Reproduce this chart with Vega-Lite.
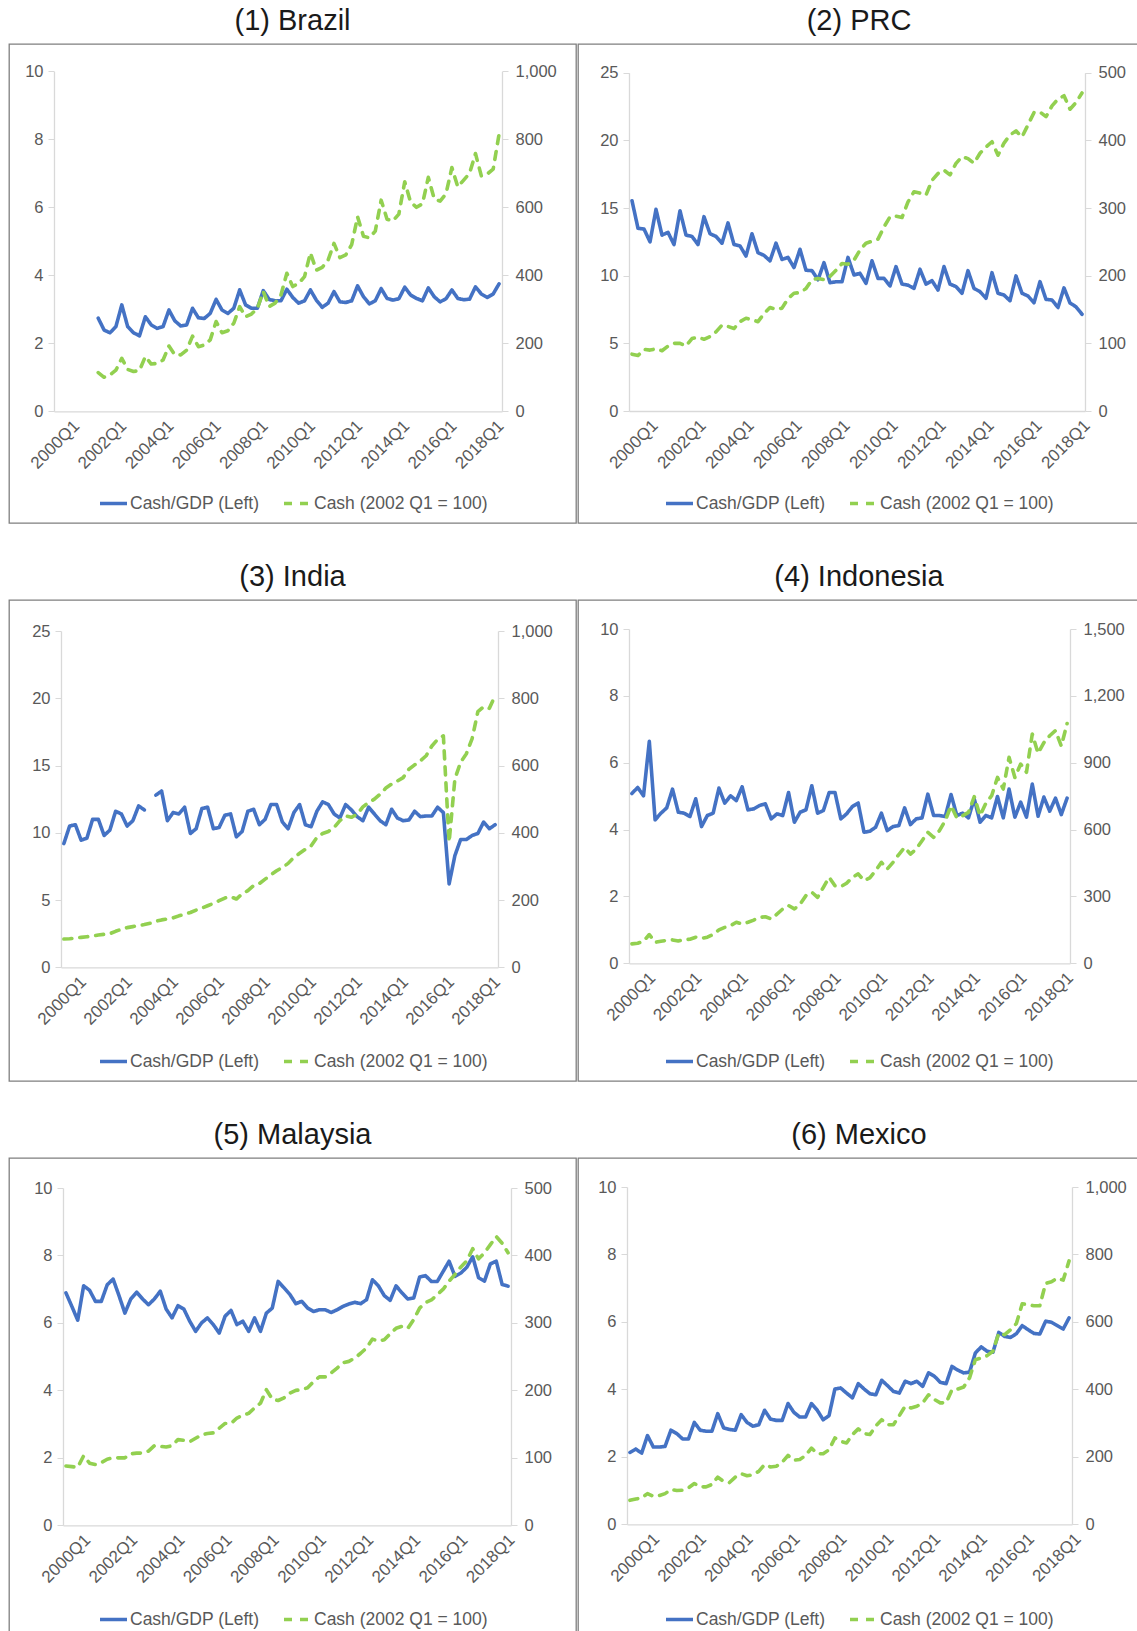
{
  "$schema": "https://vega.github.io/schema/vega-lite/v6.json",
  "padding": {"left": 8, "top": 6, "right": 0, "bottom": 0},
  "config": {
    "font": "Liberation Sans",
    "view": {"stroke": "#7f7f7f", "strokeWidth": 1.3},
    "axis": {"grid": false, "domainColor": "#d9d9d9", "domainWidth": 1.3, "tickColor": "#d9d9d9", "labelColor": "#595959", "labelFontSize": 16.5, "labelFont": "Liberation Sans"},
    "legend": {"orient": "bottom", "direction": "horizontal", "symbolType": "stroke", "symbolSize": 729, "symbolStrokeWidth": 3.8, "labelFontSize": 17.5, "labelLimit": 400, "labelColor": "#595959", "labelFont": "Liberation Sans", "columnPadding": 22, "labelOffset": 1, "layout": {"bottom": {"anchor": "middle"}}},
    "title": {"fontSize": 29, "fontWeight": "normal", "color": "#1a1a1a", "offset": 8, "anchor": "middle", "frame": "group", "font": "Liberation Sans"},
    "line": {"strokeWidth": 3.6, "strokeCap": "round", "strokeJoin": "round"}
  },
  "spacing": {"row": 38, "column": 0},
  "columns": 2,
  "resolve": {"scale": {"color": "independent", "strokeDash": "independent"}},
  "datasets": {
    "d": [
      {"c":"BR","q":7,"g":2.74,"k":114},{"c":"BR","q":8,"g":2.39,"k":100},{"c":"BR","q":9,"g":2.31,"k":107},{"c":"BR","q":10,"g":2.49,"k":121},{"c":"BR","q":11,"g":3.13,"k":156},{"c":"BR","q":12,"g":2.49,"k":123},{"c":"BR","q":13,"g":2.31,"k":117},{"c":"BR","q":14,"g":2.22,"k":120},{"c":"BR","q":15,"g":2.78,"k":161},{"c":"BR","q":16,"g":2.54,"k":139},{"c":"BR","q":17,"g":2.44,"k":141},{"c":"BR","q":18,"g":2.49,"k":151},{"c":"BR","q":19,"g":2.98,"k":192},{"c":"BR","q":20,"g":2.66,"k":166},{"c":"BR","q":21,"g":2.51,"k":166},{"c":"BR","q":22,"g":2.54,"k":180},{"c":"BR","q":23,"g":3.03,"k":221},{"c":"BR","q":24,"g":2.75,"k":190},{"c":"BR","q":25,"g":2.73,"k":195},{"c":"BR","q":26,"g":2.88,"k":210},{"c":"BR","q":27,"g":3.29,"k":264},{"c":"BR","q":28,"g":2.98,"k":231},{"c":"BR","q":29,"g":2.88,"k":237},{"c":"BR","q":30,"g":3.03,"k":259},{"c":"BR","q":31,"g":3.57,"k":308},{"c":"BR","q":32,"g":3.13,"k":278},{"c":"BR","q":33,"g":3.03,"k":286},{"c":"BR","q":34,"g":3.03,"k":303},{"c":"BR","q":35,"g":3.55,"k":352},{"c":"BR","q":36,"g":3.29,"k":308},{"c":"BR","q":37,"g":3.25,"k":318},{"c":"BR","q":38,"g":3.25,"k":342},{"c":"BR","q":39,"g":3.59,"k":406},{"c":"BR","q":40,"g":3.35,"k":367},{"c":"BR","q":41,"g":3.18,"k":376},{"c":"BR","q":42,"g":3.25,"k":396},{"c":"BR","q":43,"g":3.57,"k":466},{"c":"BR","q":44,"g":3.27,"k":415},{"c":"BR","q":45,"g":3.06,"k":423},{"c":"BR","q":46,"g":3.18,"k":445},{"c":"BR","q":47,"g":3.52,"k":494},{"c":"BR","q":48,"g":3.22,"k":452},{"c":"BR","q":49,"g":3.2,"k":460},{"c":"BR","q":50,"g":3.25,"k":490},{"c":"BR","q":51,"g":3.69,"k":572},{"c":"BR","q":52,"g":3.37,"k":515},{"c":"BR","q":53,"g":3.16,"k":510},{"c":"BR","q":54,"g":3.25,"k":530},{"c":"BR","q":55,"g":3.61,"k":621},{"c":"BR","q":56,"g":3.32,"k":565},{"c":"BR","q":57,"g":3.27,"k":560},{"c":"BR","q":58,"g":3.31,"k":580},{"c":"BR","q":59,"g":3.65,"k":675},{"c":"BR","q":60,"g":3.42,"k":615},{"c":"BR","q":61,"g":3.32,"k":600},{"c":"BR","q":62,"g":3.25,"k":610},{"c":"BR","q":63,"g":3.63,"k":688},{"c":"BR","q":64,"g":3.37,"k":625},{"c":"BR","q":65,"g":3.22,"k":618},{"c":"BR","q":66,"g":3.31,"k":640},{"c":"BR","q":67,"g":3.57,"k":717},{"c":"BR","q":68,"g":3.32,"k":660},{"c":"BR","q":69,"g":3.28,"k":680},{"c":"BR","q":70,"g":3.3,"k":700},{"c":"BR","q":71,"g":3.66,"k":758},{"c":"BR","q":72,"g":3.45,"k":692},{"c":"BR","q":73,"g":3.35,"k":698},{"c":"BR","q":74,"g":3.45,"k":712},{"c":"BR","q":75,"g":3.75,"k":815},
      {"c":"CN","q":0,"g":15.54,"k":84},{"c":"CN","q":1,"g":13.5,"k":82},{"c":"CN","q":2,"g":13.45,"k":91},{"c":"CN","q":3,"g":12.5,"k":90},{"c":"CN","q":4,"g":14.9,"k":92},{"c":"CN","q":5,"g":13.0,"k":89},{"c":"CN","q":6,"g":13.2,"k":96},{"c":"CN","q":7,"g":12.3,"k":100},{"c":"CN","q":8,"g":14.8,"k":100},{"c":"CN","q":9,"g":13.0,"k":96},{"c":"CN","q":10,"g":12.9,"k":107},{"c":"CN","q":11,"g":12.3,"k":109},{"c":"CN","q":12,"g":14.36,"k":106},{"c":"CN","q":13,"g":13.1,"k":110},{"c":"CN","q":14,"g":12.9,"k":117},{"c":"CN","q":15,"g":12.4,"k":127},{"c":"CN","q":16,"g":13.9,"k":125},{"c":"CN","q":17,"g":12.3,"k":122},{"c":"CN","q":18,"g":12.2,"k":132},{"c":"CN","q":19,"g":11.45,"k":137},{"c":"CN","q":20,"g":13.1,"k":135},{"c":"CN","q":21,"g":11.7,"k":132},{"c":"CN","q":22,"g":11.5,"k":144},{"c":"CN","q":23,"g":11.1,"k":153},{"c":"CN","q":24,"g":12.4,"k":150},{"c":"CN","q":25,"g":11.2,"k":152},{"c":"CN","q":26,"g":11.35,"k":166},{"c":"CN","q":27,"g":10.6,"k":174},{"c":"CN","q":28,"g":11.95,"k":175},{"c":"CN","q":29,"g":10.4,"k":181},{"c":"CN","q":30,"g":10.37,"k":194},{"c":"CN","q":31,"g":9.7,"k":196},{"c":"CN","q":32,"g":10.96,"k":194},{"c":"CN","q":33,"g":9.48,"k":199},{"c":"CN","q":34,"g":9.55,"k":208},{"c":"CN","q":35,"g":9.55,"k":218},{"c":"CN","q":36,"g":11.35,"k":217},{"c":"CN","q":37,"g":10.05,"k":223},{"c":"CN","q":38,"g":10.17,"k":238},{"c":"CN","q":39,"g":9.43,"k":248},{"c":"CN","q":40,"g":11.1,"k":251},{"c":"CN","q":41,"g":9.8,"k":254},{"c":"CN","q":42,"g":9.8,"k":272},{"c":"CN","q":43,"g":9.24,"k":287},{"c":"CN","q":44,"g":10.67,"k":288},{"c":"CN","q":45,"g":9.38,"k":286},{"c":"CN","q":46,"g":9.3,"k":309},{"c":"CN","q":47,"g":9.06,"k":324},{"c":"CN","q":48,"g":10.47,"k":322},{"c":"CN","q":49,"g":9.38,"k":319},{"c":"CN","q":50,"g":9.63,"k":341},{"c":"CN","q":51,"g":8.94,"k":351},{"c":"CN","q":52,"g":10.67,"k":356},{"c":"CN","q":53,"g":9.38,"k":349},{"c":"CN","q":54,"g":9.19,"k":366},{"c":"CN","q":55,"g":8.7,"k":376},{"c":"CN","q":56,"g":10.37,"k":373},{"c":"CN","q":57,"g":9.06,"k":366},{"c":"CN","q":58,"g":8.82,"k":381},{"c":"CN","q":59,"g":8.33,"k":390},{"c":"CN","q":60,"g":10.22,"k":398},{"c":"CN","q":61,"g":8.7,"k":378},{"c":"CN","q":62,"g":8.57,"k":396},{"c":"CN","q":63,"g":8.15,"k":408},{"c":"CN","q":64,"g":9.98,"k":414},{"c":"CN","q":65,"g":8.7,"k":405},{"c":"CN","q":66,"g":8.5,"k":423},{"c":"CN","q":67,"g":8.0,"k":441},{"c":"CN","q":68,"g":9.56,"k":442},{"c":"CN","q":69,"g":8.25,"k":435},{"c":"CN","q":70,"g":8.2,"k":451},{"c":"CN","q":71,"g":7.65,"k":461},{"c":"CN","q":72,"g":9.1,"k":466},{"c":"CN","q":73,"g":7.98,"k":446},{"c":"CN","q":74,"g":7.7,"k":456},{"c":"CN","q":75,"g":7.15,"k":470},
      {"c":"IN","q":0,"g":9.2,"k":84},{"c":"IN","q":1,"g":10.5,"k":85},{"c":"IN","q":2,"g":10.6,"k":87},{"c":"IN","q":3,"g":9.45,"k":89},{"c":"IN","q":4,"g":9.6,"k":91},{"c":"IN","q":5,"g":11.0,"k":93},{"c":"IN","q":6,"g":11.0,"k":96},{"c":"IN","q":7,"g":9.8,"k":98},{"c":"IN","q":8,"g":10.2,"k":100},{"c":"IN","q":9,"g":11.6,"k":107},{"c":"IN","q":10,"g":11.4,"k":113},{"c":"IN","q":11,"g":10.5,"k":118},{"c":"IN","q":12,"g":10.9,"k":121},{"c":"IN","q":13,"g":12.0,"k":124},{"c":"IN","q":14,"g":11.7,"k":127},{"c":"IN","q":15,"g":null,"k":131},{"c":"IN","q":16,"g":12.8,"k":137},{"c":"IN","q":17,"g":13.1,"k":141},{"c":"IN","q":18,"g":10.9,"k":144},{"c":"IN","q":19,"g":11.5,"k":147},{"c":"IN","q":20,"g":11.4,"k":153},{"c":"IN","q":21,"g":11.9,"k":158},{"c":"IN","q":22,"g":9.95,"k":163},{"c":"IN","q":23,"g":10.3,"k":170},{"c":"IN","q":24,"g":11.8,"k":176},{"c":"IN","q":25,"g":11.9,"k":183},{"c":"IN","q":26,"g":10.3,"k":190},{"c":"IN","q":27,"g":10.4,"k":198},{"c":"IN","q":28,"g":11.3,"k":206},{"c":"IN","q":29,"g":11.4,"k":210},{"c":"IN","q":30,"g":9.7,"k":203},{"c":"IN","q":31,"g":10.1,"k":218},{"c":"IN","q":32,"g":11.6,"k":228},{"c":"IN","q":33,"g":11.75,"k":243},{"c":"IN","q":34,"g":10.6,"k":249},{"c":"IN","q":35,"g":11.0,"k":262},{"c":"IN","q":36,"g":12.1,"k":275},{"c":"IN","q":37,"g":12.1,"k":287},{"c":"IN","q":38,"g":10.8,"k":297},{"c":"IN","q":39,"g":10.3,"k":309},{"c":"IN","q":40,"g":11.5,"k":327},{"c":"IN","q":41,"g":12.1,"k":339},{"c":"IN","q":42,"g":10.6,"k":351},{"c":"IN","q":43,"g":10.45,"k":361},{"c":"IN","q":44,"g":11.6,"k":386},{"c":"IN","q":45,"g":12.3,"k":398},{"c":"IN","q":46,"g":12.1,"k":404},{"c":"IN","q":47,"g":11.4,"k":416},{"c":"IN","q":48,"g":11.1,"k":436},{"c":"IN","q":49,"g":12.1,"k":450},{"c":"IN","q":50,"g":11.7,"k":446},{"c":"IN","q":51,"g":11.2,"k":455},{"c":"IN","q":52,"g":10.9,"k":477},{"c":"IN","q":53,"g":11.9,"k":490},{"c":"IN","q":54,"g":11.4,"k":500},{"c":"IN","q":55,"g":10.9,"k":515},{"c":"IN","q":56,"g":10.6,"k":533},{"c":"IN","q":57,"g":11.75,"k":545},{"c":"IN","q":58,"g":11.1,"k":554},{"c":"IN","q":59,"g":10.9,"k":564},{"c":"IN","q":60,"g":10.95,"k":589},{"c":"IN","q":61,"g":11.6,"k":602},{"c":"IN","q":62,"g":11.2,"k":614},{"c":"IN","q":63,"g":11.25,"k":629},{"c":"IN","q":64,"g":11.25,"k":658},{"c":"IN","q":65,"g":11.9,"k":678},{"c":"IN","q":66,"g":11.5,"k":688},{"c":"IN","q":67,"g":6.2,"k":372},{"c":"IN","q":68,"g":8.3,"k":560},{"c":"IN","q":69,"g":9.5,"k":610},{"c":"IN","q":70,"g":9.5,"k":635},{"c":"IN","q":71,"g":9.8,"k":680},{"c":"IN","q":72,"g":9.95,"k":760},{"c":"IN","q":73,"g":10.8,"k":775},{"c":"IN","q":74,"g":10.3,"k":770},{"c":"IN","q":75,"g":10.6,"k":808},
      {"c":"ID","q":0,"g":5.08,"k":87},{"c":"ID","q":1,"g":5.26,"k":90},{"c":"ID","q":2,"g":5.01,"k":99},{"c":"ID","q":3,"g":6.64,"k":129},{"c":"ID","q":4,"g":4.29,"k":94},{"c":"ID","q":5,"g":4.49,"k":99},{"c":"ID","q":6,"g":4.65,"k":103},{"c":"ID","q":7,"g":5.21,"k":105},{"c":"ID","q":8,"g":4.52,"k":100},{"c":"ID","q":9,"g":4.49,"k":106},{"c":"ID","q":10,"g":4.39,"k":108},{"c":"ID","q":11,"g":4.92,"k":117},{"c":"ID","q":12,"g":4.09,"k":112},{"c":"ID","q":13,"g":4.42,"k":117},{"c":"ID","q":14,"g":4.49,"k":129},{"c":"ID","q":15,"g":5.24,"k":150},{"c":"ID","q":16,"g":4.79,"k":161},{"c":"ID","q":17,"g":5.01,"k":169},{"c":"ID","q":18,"g":4.87,"k":184},{"c":"ID","q":19,"g":5.28,"k":176},{"c":"ID","q":20,"g":4.59,"k":184},{"c":"ID","q":21,"g":4.62,"k":194},{"c":"ID","q":22,"g":4.72,"k":206},{"c":"ID","q":23,"g":4.77,"k":209},{"c":"ID","q":24,"g":4.32,"k":199},{"c":"ID","q":25,"g":4.47,"k":221},{"c":"ID","q":26,"g":4.42,"k":244},{"c":"ID","q":27,"g":5.11,"k":259},{"c":"ID","q":28,"g":4.22,"k":244},{"c":"ID","q":29,"g":4.52,"k":266},{"c":"ID","q":30,"g":4.59,"k":304},{"c":"ID","q":31,"g":5.31,"k":319},{"c":"ID","q":32,"g":4.49,"k":296},{"c":"ID","q":33,"g":4.57,"k":341},{"c":"ID","q":34,"g":5.11,"k":386},{"c":"ID","q":35,"g":5.11,"k":348},{"c":"ID","q":36,"g":4.32,"k":344},{"c":"ID","q":37,"g":4.47,"k":359},{"c":"ID","q":38,"g":4.69,"k":386},{"c":"ID","q":39,"g":4.79,"k":401},{"c":"ID","q":40,"g":3.92,"k":371},{"c":"ID","q":41,"g":3.95,"k":383},{"c":"ID","q":42,"g":4.07,"k":416},{"c":"ID","q":43,"g":4.49,"k":453},{"c":"ID","q":44,"g":3.97,"k":423},{"c":"ID","q":45,"g":4.09,"k":453},{"c":"ID","q":46,"g":4.12,"k":488},{"c":"ID","q":47,"g":4.65,"k":520},{"c":"ID","q":48,"g":4.15,"k":490},{"c":"ID","q":49,"g":4.32,"k":513},{"c":"ID","q":50,"g":4.35,"k":550},{"c":"ID","q":51,"g":5.06,"k":588},{"c":"ID","q":52,"g":4.42,"k":565},{"c":"ID","q":53,"g":4.42,"k":595},{"c":"ID","q":54,"g":4.39,"k":640},{"c":"ID","q":55,"g":5.05,"k":707},{"c":"ID","q":56,"g":4.42,"k":652},{"c":"ID","q":57,"g":4.49,"k":662},{"c":"ID","q":58,"g":4.35,"k":677},{"c":"ID","q":59,"g":4.92,"k":748},{"c":"ID","q":60,"g":4.22,"k":662},{"c":"ID","q":61,"g":4.42,"k":718},{"c":"ID","q":62,"g":4.35,"k":752},{"c":"ID","q":63,"g":4.99,"k":834},{"c":"ID","q":64,"g":4.35,"k":782},{"c":"ID","q":65,"g":5.21,"k":924},{"c":"ID","q":66,"g":4.37,"k":834},{"c":"ID","q":67,"g":4.82,"k":894},{"c":"ID","q":68,"g":4.37,"k":857},{"c":"ID","q":69,"g":5.36,"k":1029},{"c":"ID","q":70,"g":4.4,"k":942},{"c":"ID","q":71,"g":4.97,"k":990},{"c":"ID","q":72,"g":4.55,"k":1021},{"c":"ID","q":73,"g":4.94,"k":1044},{"c":"ID","q":74,"g":4.45,"k":975},{"c":"ID","q":75,"g":4.94,"k":1076},
      {"c":"MY","q":0,"g":6.89,"k":88},{"c":"MY","q":1,"g":6.49,"k":87},{"c":"MY","q":2,"g":6.08,"k":86},{"c":"MY","q":3,"g":7.1,"k":103},{"c":"MY","q":4,"g":6.97,"k":92},{"c":"MY","q":5,"g":6.64,"k":90},{"c":"MY","q":6,"g":6.64,"k":93},{"c":"MY","q":7,"g":7.13,"k":98},{"c":"MY","q":8,"g":7.3,"k":100},{"c":"MY","q":9,"g":6.81,"k":100},{"c":"MY","q":10,"g":6.29,"k":100},{"c":"MY","q":11,"g":6.71,"k":106},{"c":"MY","q":12,"g":6.91,"k":107},{"c":"MY","q":13,"g":6.71,"k":107},{"c":"MY","q":14,"g":6.54,"k":110},{"c":"MY","q":15,"g":6.71,"k":118},{"c":"MY","q":16,"g":6.94,"k":117},{"c":"MY","q":17,"g":6.41,"k":116},{"c":"MY","q":18,"g":6.15,"k":118},{"c":"MY","q":19,"g":6.51,"k":127},{"c":"MY","q":20,"g":6.41,"k":126},{"c":"MY","q":21,"g":6.05,"k":124},{"c":"MY","q":22,"g":5.75,"k":129},{"c":"MY","q":23,"g":6.0,"k":134},{"c":"MY","q":24,"g":6.15,"k":136},{"c":"MY","q":25,"g":5.95,"k":137},{"c":"MY","q":26,"g":5.7,"k":144},{"c":"MY","q":27,"g":6.2,"k":151},{"c":"MY","q":28,"g":6.37,"k":151},{"c":"MY","q":29,"g":5.95,"k":159},{"c":"MY","q":30,"g":6.05,"k":163},{"c":"MY","q":31,"g":5.75,"k":166},{"c":"MY","q":32,"g":6.15,"k":174},{"c":"MY","q":33,"g":5.75,"k":181},{"c":"MY","q":34,"g":6.29,"k":201},{"c":"MY","q":35,"g":6.44,"k":187},{"c":"MY","q":36,"g":7.23,"k":185},{"c":"MY","q":37,"g":7.04,"k":189},{"c":"MY","q":38,"g":6.84,"k":196},{"c":"MY","q":39,"g":6.57,"k":200},{"c":"MY","q":40,"g":6.64,"k":201},{"c":"MY","q":41,"g":6.44,"k":204},{"c":"MY","q":42,"g":6.34,"k":213},{"c":"MY","q":43,"g":6.39,"k":220},{"c":"MY","q":44,"g":6.39,"k":220},{"c":"MY","q":45,"g":6.31,"k":226},{"c":"MY","q":46,"g":6.39,"k":233},{"c":"MY","q":47,"g":6.49,"k":241},{"c":"MY","q":48,"g":6.56,"k":243},{"c":"MY","q":49,"g":6.61,"k":248},{"c":"MY","q":50,"g":6.57,"k":255},{"c":"MY","q":51,"g":6.69,"k":263},{"c":"MY","q":52,"g":7.28,"k":276},{"c":"MY","q":53,"g":7.1,"k":273},{"c":"MY","q":54,"g":6.81,"k":275},{"c":"MY","q":55,"g":6.67,"k":284},{"c":"MY","q":56,"g":7.1,"k":292},{"c":"MY","q":57,"g":6.89,"k":295},{"c":"MY","q":58,"g":6.71,"k":292},{"c":"MY","q":59,"g":6.74,"k":305},{"c":"MY","q":60,"g":7.36,"k":322},{"c":"MY","q":61,"g":7.4,"k":330},{"c":"MY","q":62,"g":7.23,"k":334},{"c":"MY","q":63,"g":7.23,"k":342},{"c":"MY","q":64,"g":7.53,"k":350},{"c":"MY","q":65,"g":7.83,"k":362},{"c":"MY","q":66,"g":7.38,"k":372},{"c":"MY","q":67,"g":7.48,"k":383},{"c":"MY","q":68,"g":7.65,"k":392},{"c":"MY","q":69,"g":7.96,"k":410},{"c":"MY","q":70,"g":7.34,"k":395},{"c":"MY","q":71,"g":7.24,"k":404},{"c":"MY","q":72,"g":7.75,"k":416},{"c":"MY","q":73,"g":7.83,"k":428},{"c":"MY","q":74,"g":7.14,"k":418},{"c":"MY","q":75,"g":7.09,"k":404},
      {"c":"MX","q":0,"g":2.13,"k":71},{"c":"MX","q":1,"g":2.23,"k":75},{"c":"MX","q":2,"g":2.11,"k":78},{"c":"MX","q":3,"g":2.63,"k":91},{"c":"MX","q":4,"g":2.29,"k":83},{"c":"MX","q":5,"g":2.29,"k":85},{"c":"MX","q":6,"g":2.31,"k":91},{"c":"MX","q":7,"g":2.79,"k":103},{"c":"MX","q":8,"g":2.69,"k":100},{"c":"MX","q":9,"g":2.53,"k":101},{"c":"MX","q":10,"g":2.53,"k":108},{"c":"MX","q":11,"g":3.02,"k":121},{"c":"MX","q":12,"g":2.79,"k":111},{"c":"MX","q":13,"g":2.76,"k":111},{"c":"MX","q":14,"g":2.76,"k":118},{"c":"MX","q":15,"g":3.28,"k":140},{"c":"MX","q":16,"g":2.86,"k":127},{"c":"MX","q":17,"g":2.81,"k":124},{"c":"MX","q":18,"g":2.79,"k":140},{"c":"MX","q":19,"g":3.25,"k":150},{"c":"MX","q":20,"g":3.02,"k":144},{"c":"MX","q":21,"g":2.91,"k":147},{"c":"MX","q":22,"g":2.95,"k":157},{"c":"MX","q":23,"g":3.38,"k":177},{"c":"MX","q":24,"g":3.12,"k":170},{"c":"MX","q":25,"g":3.08,"k":172},{"c":"MX","q":26,"g":3.08,"k":184},{"c":"MX","q":27,"g":3.58,"k":204},{"c":"MX","q":28,"g":3.32,"k":190},{"c":"MX","q":29,"g":3.18,"k":192},{"c":"MX","q":30,"g":3.18,"k":204},{"c":"MX","q":31,"g":3.58,"k":226},{"c":"MX","q":32,"g":3.38,"k":209},{"c":"MX","q":33,"g":3.1,"k":209},{"c":"MX","q":34,"g":3.22,"k":221},{"c":"MX","q":35,"g":4.01,"k":256},{"c":"MX","q":36,"g":4.04,"k":246},{"c":"MX","q":37,"g":3.89,"k":241},{"c":"MX","q":38,"g":3.75,"k":266},{"c":"MX","q":39,"g":4.17,"k":283},{"c":"MX","q":40,"g":4.01,"k":269},{"c":"MX","q":41,"g":3.87,"k":266},{"c":"MX","q":42,"g":3.84,"k":292},{"c":"MX","q":43,"g":4.27,"k":310},{"c":"MX","q":44,"g":4.11,"k":295},{"c":"MX","q":45,"g":3.94,"k":295},{"c":"MX","q":46,"g":3.89,"k":322},{"c":"MX","q":47,"g":4.24,"k":350},{"c":"MX","q":48,"g":4.17,"k":345},{"c":"MX","q":49,"g":4.24,"k":350},{"c":"MX","q":50,"g":4.09,"k":360},{"c":"MX","q":51,"g":4.49,"k":384},{"c":"MX","q":52,"g":4.39,"k":370},{"c":"MX","q":53,"g":4.21,"k":360},{"c":"MX","q":54,"g":4.17,"k":360},{"c":"MX","q":55,"g":4.68,"k":399},{"c":"MX","q":56,"g":4.57,"k":401},{"c":"MX","q":57,"g":4.49,"k":407},{"c":"MX","q":58,"g":4.51,"k":434},{"c":"MX","q":59,"g":5.08,"k":488},{"c":"MX","q":60,"g":5.26,"k":493},{"c":"MX","q":61,"g":5.13,"k":500},{"c":"MX","q":62,"g":5.1,"k":513},{"c":"MX","q":63,"g":5.69,"k":567},{"c":"MX","q":64,"g":5.57,"k":562},{"c":"MX","q":65,"g":5.54,"k":577},{"c":"MX","q":66,"g":5.65,"k":595},{"c":"MX","q":67,"g":5.89,"k":654},{"c":"MX","q":68,"g":5.77,"k":651},{"c":"MX","q":69,"g":5.66,"k":648},{"c":"MX","q":70,"g":5.64,"k":648},{"c":"MX","q":71,"g":6.02,"k":714},{"c":"MX","q":72,"g":5.99,"k":719},{"c":"MX","q":73,"g":5.89,"k":730},{"c":"MX","q":74,"g":5.79,"k":724},{"c":"MX","q":75,"g":6.12,"k":781}
    ]
  },
  "concat": [
    {
      "title": "(1) Brazil", "width": 567, "height": 479,
      "data": {"name": "d"}, "transform": [{"filter": "datum.c == 'BR'"}],
      "encoding": {"x": {"field": "q", "type": "quantitative", "scale": {"domain": [-0.5, 75.5], "range": [45, 493], "nice": false, "zero": false},
        "axis": {"title": null, "values": [0,8,16,24,32,40,48,56,64,72], "labelExpr": "(2000 + datum.value / 4) + 'Q1'", "offset": -111.7, "labelAngle": -45, "labelAlign": "center", "labelBaseline": "middle", "labelPadding": 33, "labelOffset": -2, "labelFontSize": 17, "ticks": false, "tickSize": 0, "labelOverlap": false, "labelFlush": false}}},
      "layer": [
        {"mark": {"type": "line", "invalid": "break-paths-show-domains"}, "encoding": {
          "y": {"field": "g", "type": "quantitative", "scale": {"domain": [0, 10], "range": [367.3, 27.3], "nice": false}, "axis": {"title": null, "orient": "left", "values": [0,2,4,6,8,10], "offset": -45, "tickSize": 6, "labelPadding": 5, "labelFlush": false}},
          "color": {"datum": "Cash/GDP (Left)", "scale": {"domain": ["Cash/GDP (Left)", "Cash (2002 Q1 = 100)"], "range": ["#4472C4", "#92D050"]}, "legend": {"title": null, "offset": -35}},
          "strokeDash": {"datum": "Cash/GDP (Left)", "scale": {"domain": ["Cash/GDP (Left)", "Cash (2002 Q1 = 100)"], "range": [[1, 0], [8, 8]]}, "legend": {"title": null, "offset": -35}}}},
        {"mark": {"type": "line"}, "encoding": {
          "y": {"field": "k", "type": "quantitative", "scale": {"domain": [0, 1000], "range": [367.3, 27.3], "nice": false}, "axis": {"title": null, "orient": "right", "values": [0,200,400,600,800,1000], "format": ",d", "offset": -74, "tickSize": 6, "labelPadding": 7, "labelFlush": false}},
          "color": {"datum": "Cash (2002 Q1 = 100)"},
          "strokeDash": {"datum": "Cash (2002 Q1 = 100)"}}}
      ],
      "resolve": {"scale": {"y": "independent"}}
    },
    {
      "title": "(2) PRC", "width": 562, "height": 479,
      "data": {"name": "d"}, "transform": [{"filter": "datum.c == 'CN'"}],
      "encoding": {"x": {"field": "q", "type": "quantitative", "scale": {"domain": [-0.5, 75.5], "range": [51, 507], "nice": false, "zero": false},
        "axis": {"title": null, "values": [0,8,16,24,32,40,48,56,64,72], "labelExpr": "(2000 + datum.value / 4) + 'Q1'", "offset": -112, "labelAngle": -45, "labelAlign": "center", "labelBaseline": "middle", "labelPadding": 33, "labelOffset": 1.5, "labelFontSize": 17, "ticks": false, "tickSize": 0, "labelOverlap": false, "labelFlush": false}}},
      "layer": [
        {"mark": {"type": "line", "invalid": "break-paths-show-domains"}, "encoding": {
          "y": {"field": "g", "type": "quantitative", "scale": {"domain": [0, 25], "range": [367, 28.7], "nice": false}, "axis": {"title": null, "orient": "left", "values": [0,5,10,15,20,25], "offset": -51, "tickSize": 6, "labelPadding": 5, "labelFlush": false}},
          "color": {"datum": "Cash/GDP (Left)", "scale": {"domain": ["Cash/GDP (Left)", "Cash (2002 Q1 = 100)"], "range": ["#4472C4", "#92D050"]}, "legend": {"title": null, "offset": -35}},
          "strokeDash": {"datum": "Cash/GDP (Left)", "scale": {"domain": ["Cash/GDP (Left)", "Cash (2002 Q1 = 100)"], "range": [[1, 0], [8, 8]]}, "legend": {"title": null, "offset": -35}}}},
        {"mark": {"type": "line"}, "encoding": {
          "y": {"field": "k", "type": "quantitative", "scale": {"domain": [0, 500], "range": [367, 28.7], "nice": false}, "axis": {"title": null, "orient": "right", "values": [0,100,200,300,400,500], "format": ",d", "offset": -55, "tickSize": 6, "labelPadding": 7, "labelFlush": false}},
          "color": {"datum": "Cash (2002 Q1 = 100)"},
          "strokeDash": {"datum": "Cash (2002 Q1 = 100)"}}}
      ],
      "resolve": {"scale": {"y": "independent"}}
    },
    {
      "title": "(3) India", "width": 567, "height": 481,
      "data": {"name": "d"}, "transform": [{"filter": "datum.c == 'IN'"}],
      "encoding": {"x": {"field": "q", "type": "quantitative", "scale": {"domain": [-0.5, 75.5], "range": [52, 489], "nice": false, "zero": false},
        "axis": {"title": null, "values": [0,8,16,24,32,40,48,56,64,72], "labelExpr": "(2000 + datum.value / 4) + 'Q1'", "offset": -113.7, "labelAngle": -45, "labelAlign": "center", "labelBaseline": "middle", "labelPadding": 33, "labelOffset": -2, "labelFontSize": 17, "ticks": false, "tickSize": 0, "labelOverlap": false, "labelFlush": false}}},
      "layer": [
        {"mark": {"type": "line", "invalid": "break-paths-show-domains"}, "encoding": {
          "y": {"field": "g", "type": "quantitative", "scale": {"domain": [0, 25], "range": [367.3, 31], "nice": false}, "axis": {"title": null, "orient": "left", "values": [0,5,10,15,20,25], "offset": -52, "tickSize": 6, "labelPadding": 5, "labelFlush": false}},
          "color": {"datum": "Cash/GDP (Left)", "scale": {"domain": ["Cash/GDP (Left)", "Cash (2002 Q1 = 100)"], "range": ["#4472C4", "#92D050"]}, "legend": {"title": null, "offset": -35}},
          "strokeDash": {"datum": "Cash/GDP (Left)", "scale": {"domain": ["Cash/GDP (Left)", "Cash (2002 Q1 = 100)"], "range": [[1, 0], [8, 8]]}, "legend": {"title": null, "offset": -35}}}},
        {"mark": {"type": "line"}, "encoding": {
          "y": {"field": "k", "type": "quantitative", "scale": {"domain": [0, 1000], "range": [367.3, 31], "nice": false}, "axis": {"title": null, "orient": "right", "values": [0,200,400,600,800,1000], "format": ",d", "offset": -78, "tickSize": 6, "labelPadding": 7, "labelFlush": false}},
          "color": {"datum": "Cash (2002 Q1 = 100)"},
          "strokeDash": {"datum": "Cash (2002 Q1 = 100)"}}}
      ],
      "resolve": {"scale": {"y": "independent"}}
    },
    {
      "title": "(4) Indonesia", "width": 562, "height": 481,
      "data": {"name": "d"}, "transform": [{"filter": "datum.c == 'ID'"}],
      "encoding": {"x": {"field": "q", "type": "quantitative", "scale": {"domain": [-0.5, 75.5], "range": [51, 492], "nice": false, "zero": false},
        "axis": {"title": null, "values": [0,8,16,24,32,40,48,56,64,72], "labelExpr": "(2000 + datum.value / 4) + 'Q1'", "offset": -117.7, "labelAngle": -45, "labelAlign": "center", "labelBaseline": "middle", "labelPadding": 33, "labelOffset": -1, "labelFontSize": 17, "ticks": false, "tickSize": 0, "labelOverlap": false, "labelFlush": false}}},
      "layer": [
        {"mark": {"type": "line", "invalid": "break-paths-show-domains"}, "encoding": {
          "y": {"field": "g", "type": "quantitative", "scale": {"domain": [0, 10], "range": [363.3, 29], "nice": false}, "axis": {"title": null, "orient": "left", "values": [0,2,4,6,8,10], "offset": -51, "tickSize": 6, "labelPadding": 5, "labelFlush": false}},
          "color": {"datum": "Cash/GDP (Left)", "scale": {"domain": ["Cash/GDP (Left)", "Cash (2002 Q1 = 100)"], "range": ["#4472C4", "#92D050"]}, "legend": {"title": null, "offset": -35}},
          "strokeDash": {"datum": "Cash/GDP (Left)", "scale": {"domain": ["Cash/GDP (Left)", "Cash (2002 Q1 = 100)"], "range": [[1, 0], [8, 8]]}, "legend": {"title": null, "offset": -35}}}},
        {"mark": {"type": "line"}, "encoding": {
          "y": {"field": "k", "type": "quantitative", "scale": {"domain": [0, 1500], "range": [363.3, 29], "nice": false}, "axis": {"title": null, "orient": "right", "values": [0,300,600,900,1200,1500], "format": ",d", "offset": -70, "tickSize": 6, "labelPadding": 7, "labelFlush": false}},
          "color": {"datum": "Cash (2002 Q1 = 100)"},
          "strokeDash": {"datum": "Cash (2002 Q1 = 100)"}}}
      ],
      "resolve": {"scale": {"y": "independent"}}
    },
    {
      "title": "(5) Malaysia", "width": 567, "height": 475,
      "data": {"name": "d"}, "transform": [{"filter": "datum.c == 'MY'"}],
      "encoding": {"x": {"field": "q", "type": "quantitative", "scale": {"domain": [-0.5, 75.5], "range": [54, 502], "nice": false, "zero": false},
        "axis": {"title": null, "values": [0,8,16,24,32,40,48,56,64,72], "labelExpr": "(2000 + datum.value / 4) + 'Q1'", "offset": -107.7, "labelAngle": -45, "labelAlign": "center", "labelBaseline": "middle", "labelPadding": 33, "labelOffset": 0, "labelFontSize": 17, "ticks": false, "tickSize": 0, "labelOverlap": false, "labelFlush": false}}},
      "layer": [
        {"mark": {"type": "line", "invalid": "break-paths-show-domains"}, "encoding": {
          "y": {"field": "g", "type": "quantitative", "scale": {"domain": [0, 10], "range": [367.3, 30], "nice": false}, "axis": {"title": null, "orient": "left", "values": [0,2,4,6,8,10], "offset": -54, "tickSize": 6, "labelPadding": 5, "labelFlush": false}},
          "color": {"datum": "Cash/GDP (Left)", "scale": {"domain": ["Cash/GDP (Left)", "Cash (2002 Q1 = 100)"], "range": ["#4472C4", "#92D050"]}, "legend": {"title": null, "offset": -29}},
          "strokeDash": {"datum": "Cash/GDP (Left)", "scale": {"domain": ["Cash/GDP (Left)", "Cash (2002 Q1 = 100)"], "range": [[1, 0], [8, 8]]}, "legend": {"title": null, "offset": -29}}}},
        {"mark": {"type": "line"}, "encoding": {
          "y": {"field": "k", "type": "quantitative", "scale": {"domain": [0, 500], "range": [367.3, 30], "nice": false}, "axis": {"title": null, "orient": "right", "values": [0,100,200,300,400,500], "format": ",d", "offset": -65, "tickSize": 6, "labelPadding": 7, "labelFlush": false}},
          "color": {"datum": "Cash (2002 Q1 = 100)"},
          "strokeDash": {"datum": "Cash (2002 Q1 = 100)"}}}
      ],
      "resolve": {"scale": {"y": "independent"}}
    },
    {
      "title": "(6) Mexico", "width": 562, "height": 475,
      "data": {"name": "d"}, "transform": [{"filter": "datum.c == 'MX'"}],
      "encoding": {"x": {"field": "q", "type": "quantitative", "scale": {"domain": [-0.5, 75.5], "range": [49, 494], "nice": false, "zero": false},
        "axis": {"title": null, "values": [0,8,16,24,32,40,48,56,64,72], "labelExpr": "(2000 + datum.value / 4) + 'Q1'", "offset": -108.7, "labelAngle": -45, "labelAlign": "center", "labelBaseline": "middle", "labelPadding": 33, "labelOffset": 5, "labelFontSize": 17, "ticks": false, "tickSize": 0, "labelOverlap": false, "labelFlush": false}}},
      "layer": [
        {"mark": {"type": "line", "invalid": "break-paths-show-domains"}, "encoding": {
          "y": {"field": "g", "type": "quantitative", "scale": {"domain": [0, 10], "range": [366.3, 29], "nice": false}, "axis": {"title": null, "orient": "left", "values": [0,2,4,6,8,10], "offset": -49, "tickSize": 6, "labelPadding": 5, "labelFlush": false}},
          "color": {"datum": "Cash/GDP (Left)", "scale": {"domain": ["Cash/GDP (Left)", "Cash (2002 Q1 = 100)"], "range": ["#4472C4", "#92D050"]}, "legend": {"title": null, "offset": -29}},
          "strokeDash": {"datum": "Cash/GDP (Left)", "scale": {"domain": ["Cash/GDP (Left)", "Cash (2002 Q1 = 100)"], "range": [[1, 0], [8, 8]]}, "legend": {"title": null, "offset": -29}}}},
        {"mark": {"type": "line"}, "encoding": {
          "y": {"field": "k", "type": "quantitative", "scale": {"domain": [0, 1000], "range": [366.3, 29], "nice": false}, "axis": {"title": null, "orient": "right", "values": [0,200,400,600,800,1000], "format": ",d", "offset": -68, "tickSize": 6, "labelPadding": 7, "labelFlush": false}},
          "color": {"datum": "Cash (2002 Q1 = 100)"},
          "strokeDash": {"datum": "Cash (2002 Q1 = 100)"}}}
      ],
      "resolve": {"scale": {"y": "independent"}}
    }
  ]
}
